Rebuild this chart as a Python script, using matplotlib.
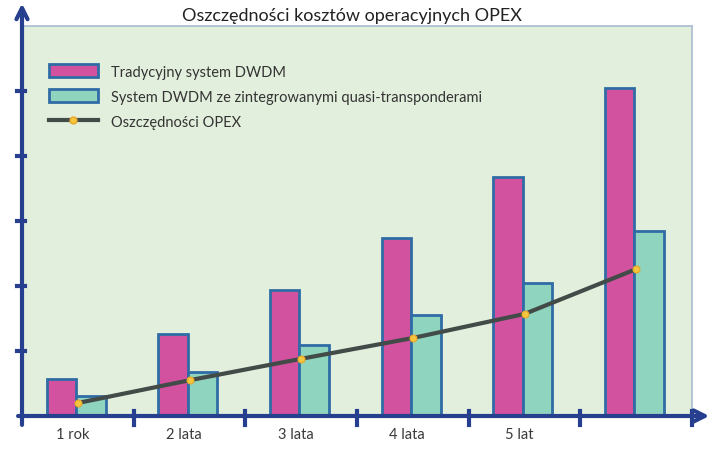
import numpy as np
import matplotlib.pyplot as plt
from matplotlib.patches import Patch
from matplotlib.lines import Line2D

plt.rcParams['font.family'] = ['Lato', 'DejaVu Sans']

categories = ['1 rok', '2 lata', '3 lata', '4 lata', '5 lat', '']
traditional = [0.57, 1.26, 1.94, 2.74, 3.68, 5.05]
integrated = [0.31, 0.68, 1.09, 1.55, 2.05, 2.85]
savings = [0.20, 0.55, 0.88, 1.20, 1.57, 2.26]

W, H = 722, 452
fig = plt.figure(figsize=(W / 100, H / 100), dpi=100)
ax = fig.add_axes([22 / W, (H - 417) / H, (692 - 22) / W, (417 - 27) / H])
ax.set_facecolor('#E3EFDD')

pink = '#D2529F'
green = '#8FD4BF'
edge = '#2F6CA6'
navy = '#263F8E'

x = np.arange(len(categories)) + 0.5
bw = 0.265
ax.bar(x - bw / 2 - 0.015, traditional, bw, color=pink, edgecolor=edge, linewidth=2, zorder=2)
ax.bar(x + bw / 2 - 0.015, integrated, bw, color=green, edgecolor=edge, linewidth=2, zorder=2)
ax.plot(x, savings, color='#424B47', lw=3, marker='o', ms=5,
        mfc='#F6C53E', mec='#E8A92A', mew=0.8, zorder=3)

ax.set_xlim(0, 6)
ax.set_ylim(0, 6)
for s in ['left', 'bottom']:
    ax.spines[s].set_visible(False)
for s in ['top', 'right']:
    ax.spines[s].set_color('#A9BCD0')
    ax.spines[s].set_linewidth(1.2)
ax.set_xticks([])
ax.set_yticks([])

# axes with arrows
ax.annotate('', xy=(0, 1.065), xytext=(0, -0.03), xycoords='axes fraction',
            arrowprops=dict(arrowstyle='->', color=navy, lw=3, mutation_scale=20),
            annotation_clip=False)
ax.annotate('', xy=(1.03, 0), xytext=(-0.01, 0), xycoords='axes fraction',
            arrowprops=dict(arrowstyle='->', color=navy, lw=3, mutation_scale=20),
            annotation_clip=False)
for t in range(1, 7):
    ax.plot([t, t], [-0.14, 0.07], color=navy, lw=3, clip_on=False, zorder=4)
for t in range(1, 6):
    ax.plot([-0.045, 0.03], [t, t], color=navy, lw=3, clip_on=False, zorder=4)

for xi, lab in zip(x, categories):
    ax.text(xi - 0.05, -0.17, lab, ha='center', va='top', fontsize=10.5, color='#3A3A3A')

fig.text(352 / W, 1 - 16 / H, 'Oszczędności kosztów operacyjnych OPEX',
         ha='center', va='center', fontsize=13, color='#222222')

handles = [Patch(facecolor=pink, edgecolor=edge, linewidth=2),
           Patch(facecolor=green, edgecolor=edge, linewidth=2),
           Line2D([], [], color='#424B47', lw=3, marker='o', ms=5,
                  mfc='#F6C53E', mec='#E8A92A')]
labels = ['Tradycyjny system DWDM',
          'System DWDM ze zintegrowanymi quasi-transponderami',
          'Oszczędności OPEX']
ax.legend(handles, labels, loc='upper left', bbox_to_anchor=(0.02, 0.935),
          frameon=False, fontsize=10.5, handlelength=3.4, handleheight=0.9,
          handletextpad=0.9, labelspacing=0.75, labelcolor='#333333')

fig.savefig('out.png', dpi=100)
